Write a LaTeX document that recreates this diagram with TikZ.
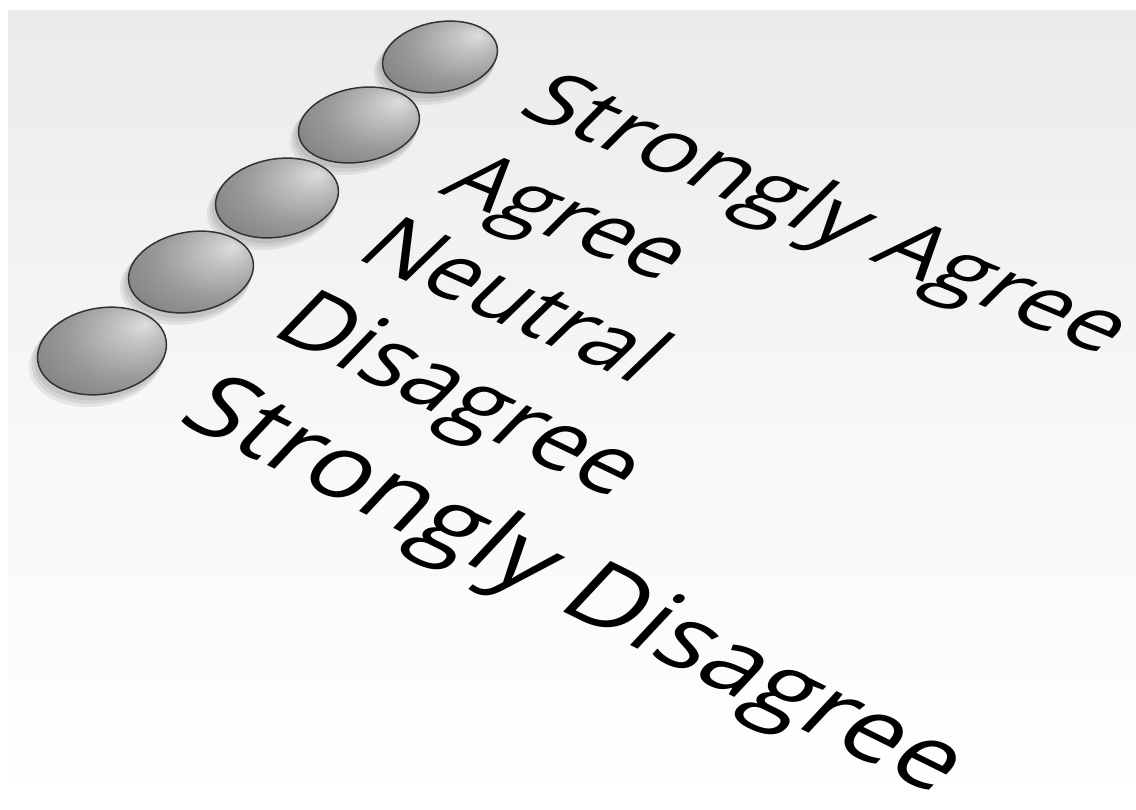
\documentclass[tikz,border=0pt]{standalone}
\usepackage{fontspec}
\setmainfont{Open Sans}
\usetikzlibrary{shapes.geometric}
\pgfdeclareradialshading{orb}{\pgfpoint{16bp}{14bp}}{color(0bp)=(black!13); color(8bp)=(black!24); color(22bp)=(black!40); color(38bp)=(black!52); color(50bp)=(black!66)}

\begin{document}
\begin{tikzpicture}[x=1pt,y=-1pt,
    lbl/.style={anchor=base west,inner sep=0pt,font=\fontsize{100}{110}\selectfont},
    orb/.style={ellipse,shading=orb,draw=black!80,line width=1.5pt,inner sep=0pt}]
  \useasboundingbox (0,0) rectangle (1136,810);
  \fill[white] (0,0) rectangle (1136,810);
  \shade[top color=black!8,bottom color=white,middle color=black!3] (8,11) rectangle (1136,810);
  % answer buttons, top to bottom
  \foreach \n/\x/\y/\rx/\ry in {1/440/57/58/35,2/359/125/61/37,3/277/198/62/39,4/191/272/63/40,5/102/351/65/43}{
    \foreach \k in {1,2,3}
      \fill[black,opacity=0.07,rotate around={10:(\x,\y)}] (\x-1-2*\k,\y+2+2*\k) ellipse [x radius=\rx+\k,y radius=\ry+\k];
    \node[orb,rotate=10,minimum width=2*\rx,minimum height=2*\ry] (b\n) at (\x,\y) {};
  }
  % labels, laid flat on the sheet
  \node[lbl,cm={0.868,-0.361,0.601,0.601,(0,0)}] (sagree) at (515,112) {Strongly Agree};
  \node[lbl,cm={0.834,-0.337,0.608,0.608,(0,0)}] (agree) at (437,192) {Agree};
  \node[lbl,cm={0.811,-0.366,0.633,0.611,(0,0)}] (neutral) at (353,257) {Neutral};
  \node[lbl,cm={0.847,-0.408,0.639,0.662,(0,0)}] (disagree) at (268,333) {Disagree};
  \node[lbl,cm={0.932,-0.461,0.662,0.709,(0,0)}] (sdisagree) at (175,420) {Strongly Disagree};
\end{tikzpicture}
\end{document}
